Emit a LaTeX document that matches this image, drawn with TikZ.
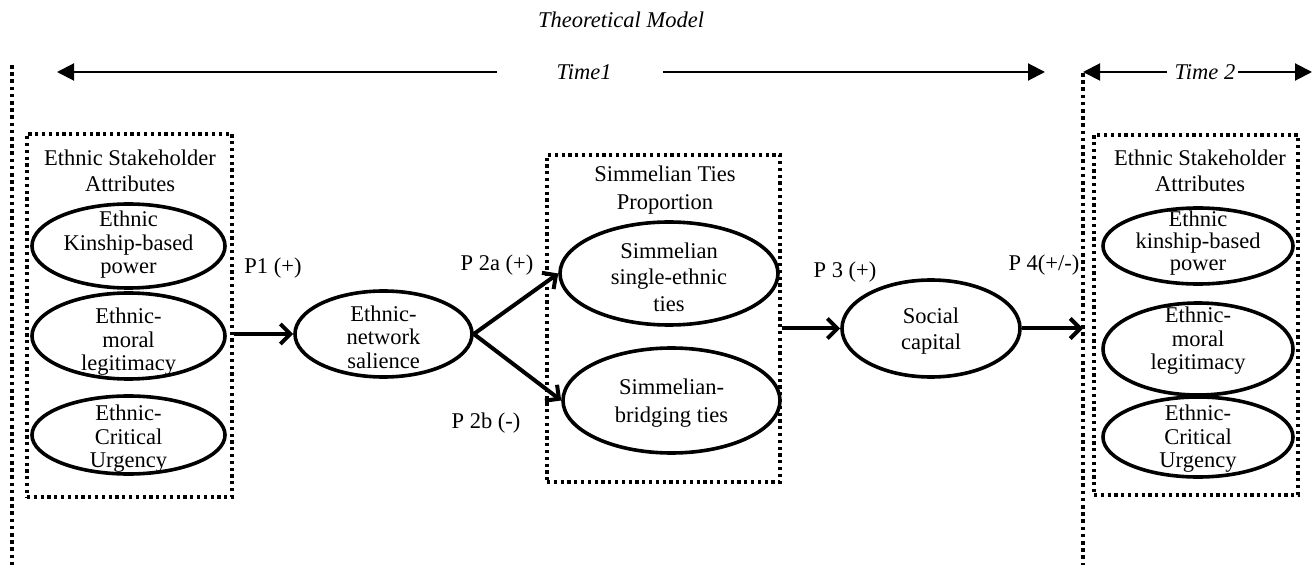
\documentclass[tikz,border=0pt]{standalone}
\usepackage{fontspec}
\setmainfont{Liberation Serif}
\usetikzlibrary{shapes.geometric,arrows.meta}
\begin{document}
\begin{tikzpicture}[x=1pt,y=-1pt,
  txt/.style={font=\fontsize{22.5}{23.5}\selectfont, align=center, inner sep=0pt},
  ttl/.style={font=\fontsize{22.5}{26}\selectfont, align=center, inner sep=0pt},
  itl/.style={font=\fontsize{22.5}{24}\selectfont\itshape, inner sep=0pt},
  ell/.style={draw, ellipse, line width=3.6pt, inner sep=0pt},
  dotbox/.style={draw, rectangle, line width=3.2pt, dash pattern=on 3.2pt off 3.6pt, inner sep=0pt},
  vline/.style={line width=3.6pt, dash pattern=on 3.6pt off 3.6pt},
  flow/.style={line width=4pt, -{Straight Barb[length=10pt,width=20pt]}},
  tarrow/.style={line width=2pt, -{Triangle[length=17pt,width=17pt]}}
]
\useasboundingbox (0,0) rectangle (1315,569);

% title and time line
\node[itl] (title) at (621,20) {Theoretical Model};
\node[itl] (time1) at (584,72) {Time1};
\node[itl] (time2) at (1205,72) {Time 2};
\coordinate (t1a) at (497,72);
\coordinate (t1tip) at (57,72);
\coordinate (t1b) at (663,72);
\coordinate (t1end) at (1045,72);
\coordinate (t2a) at (1167,72);
\coordinate (t2tip) at (1083,72);
\coordinate (t2b) at (1238,72);
\coordinate (t2end) at (1312,72);
\draw[tarrow] (t1a) -- (t1tip);
\draw[tarrow] (t1b) -- (t1end);
\draw[tarrow] (t2a) -- (t2tip);
\draw[tarrow] (t2b) -- (t2end);

% vertical dotted separators
\coordinate (vl1) at (12,65);
\coordinate (vl2) at (12,565);
\coordinate (vr1) at (1083,73);
\coordinate (vr2) at (1083,565);
\draw[vline] (vl1) -- (vl2);
\draw[vline] (vr1) -- (vr2);

% boxes
\node[dotbox, minimum width=205pt, minimum height=363pt] (lbox) at (129.5,315.5) {};
\node[dotbox, minimum width=233pt, minimum height=327pt] (mbox) at (663.5,318.5) {};
\node[dotbox, minimum width=204pt, minimum height=360pt] (rbox) at (1196,315) {};

% left group
\node[ttl] (ltitle) at (130,171) {Ethnic Stakeholder\\Attributes};
\node[ell, minimum width=193pt, minimum height=84pt] (l1) at (128.5,246) {};
\node[txt] (l1t) at (128.5,245) {Ethnic\\Kinship-based\\power};
\node[ell, minimum width=193pt, minimum height=86pt] (l2) at (128.5,336) {};
\node[txt] (l2t) at (128.5,342) {Ethnic-\\moral\\legitimacy};
\node[ell, minimum width=193pt, minimum height=78pt] (l3) at (128.5,435) {};
\node[txt] (l3t) at (128.5,439) {Ethnic-\\Critical\\Urgency};

% salience
\node[ell, minimum width=177pt, minimum height=86pt] (sal) at (383.5,334) {};
\node[txt] (salt) at (383.5,337) {Ethnic-\\network\\salience};

% middle group
\node[ttl, font=\fontsize{22.5}{28}\selectfont] (mtitle) at (665,190) {Simmelian Ties\\Proportion};
\node[ell, minimum width=218pt, minimum height=103pt] (m1) at (669,273.5) {};
\node[txt, font=\fontsize{22.5}{26.5}\selectfont] (m1t) at (669,277) {Simmelian\\single-ethnic\\ties};
\node[ell, minimum width=217pt, minimum height=105pt] (m2) at (671.5,400.5) {};
\node[txt, font=\fontsize{22.5}{28}\selectfont] (m2t) at (671.5,403) {Simmelian-\\bridging ties};

% social capital
\node[ell, minimum width=178pt, minimum height=97pt] (soc) at (931,328.5) {};
\node[txt, font=\fontsize{22.5}{26}\selectfont] (soct) at (931,331) {Social\\capital};

% right group
\node[ttl] (rtitle) at (1200,171) {Ethnic Stakeholder\\Attributes};
\node[ell, minimum width=190pt, minimum height=76pt] (r1) at (1198,246) {};
\node[txt, font=\fontsize{22.5}{22}\selectfont] (r1t) at (1198,243) {Ethnic\\kinship-based\\power};
\node[ell, minimum width=190pt, minimum height=92pt] (r2) at (1198,349) {};
\node[txt] (r2t) at (1198,341) {Ethnic-\\moral\\legitimacy};
\node[ell, minimum width=190pt, minimum height=80pt] (r3) at (1198,437) {};
\node[txt] (r3t) at (1198,439) {Ethnic-\\Critical\\Urgency};

% labels
\node[txt] (p1) at (273,268) {P1 (+)};
\node[txt] (p2a) at (497,265) {P 2a (+)};
\node[txt] (p2b) at (486,423) {P 2b (-)};
\node[txt] (p3) at (845,272) {P 3 (+)};
\node[txt] (p4) at (1044,265) {P 4(+/-)};

% flows
\draw[flow] (sal.west -| lbox.east) -- (sal.west);
\draw[flow] (sal.east) -- (m1.west);
\draw[flow] (sal.east) -- (m2.west);
\draw[flow] (soc.west -| mbox.east) -- (soc.west);
\draw[flow] (soc.east) -- (soc.east -| vr1);
\end{tikzpicture}
\end{document}
